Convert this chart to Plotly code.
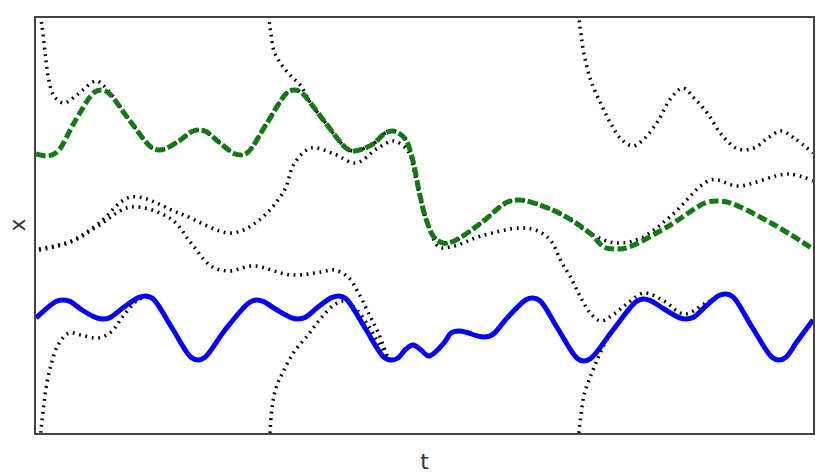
import plotly.graph_objects as go

# solid blue trajectory (incl. shoulders of each extremum)
blue_t = [0.00, 0.20, 0.27, 0.34, 0.46, 0.60, 0.67, 0.74, 0.88, 1.03, 1.10, 1.17, 1.36,
          1.55, 1.62, 1.69, 1.89, 2.13, 2.20, 2.27, 2.41, 2.55, 2.62, 2.69, 2.82, 2.96,
          3.03, 3.10, 3.29, 3.48, 3.55, 3.62, 3.70, 3.77, 3.85, 3.93, 4.08, 4.15, 4.23,
          4.31, 4.40, 4.48, 4.56, 4.72, 4.90, 4.97, 5.04, 5.22, 5.41, 5.48, 5.55, 5.77,
          6.00, 6.07, 6.14, 6.28, 6.43, 6.50, 6.57, 6.70, 6.83, 6.90, 6.97, 7.16, 7.36,
          7.43, 7.50, 7.60, 7.77]
blue_x = [-0.925, -0.759, -0.745, -0.759, -0.845, -0.921, -0.935, -0.921, -0.815, -0.719,
          -0.705, -0.733, -1.025, -1.317, -1.345, -1.317, -1.045, -0.773, -0.745, -0.759,
          -0.845, -0.921, -0.935, -0.921, -0.815, -0.719, -0.705, -0.733, -1.025, -1.317,
          -1.345, -1.325, -1.235, -1.195, -1.245, -1.305, -1.175, -1.075, -1.055, -1.070,
          -1.100, -1.115, -1.095, -0.915, -0.742, -0.725, -0.753, -1.035, -1.327, -1.355,
          -1.327, -1.045, -0.763, -0.735, -0.749, -0.835, -0.921, -0.935, -0.921, -0.805,
          -0.699, -0.685, -0.713, -1.015, -1.317, -1.345, -1.317, -1.175, -0.945]

# dashed green trajectory
green_t = [0.00, 0.12, 0.22, 0.38, 0.58, 0.65, 0.72, 0.94, 1.16, 1.23, 1.30, 1.43, 1.56,
           1.63, 1.70, 1.84, 1.98, 2.05, 2.12, 2.31, 2.51, 2.58, 2.65, 2.88, 3.11, 3.18,
           3.25, 3.37, 3.50, 3.57, 3.64, 3.70, 3.77, 3.83, 3.90, 3.98, 4.07, 4.17, 4.45,
           4.70, 4.82, 4.94, 5.25, 5.55, 5.68, 5.80, 5.92, 6.31, 6.70, 6.82, 6.94, 7.35,
           7.77]
green_x = [0.715, 0.695, 0.745, 1.025, 1.330, 1.355, 1.330, 1.045, 0.776, 0.755, 0.770,
           0.845, 0.940, 0.955, 0.940, 0.825, 0.720, 0.705, 0.734, 1.025, 1.326, 1.355,
           1.333, 1.045, 0.767, 0.745, 0.760, 0.815, 0.930, 0.945, 0.915, 0.855, 0.645,
           0.345, 0.065, -0.115, -0.175, -0.160, 0.025, 0.227, 0.255, 0.237, 0.115,
           -0.085, -0.217, -0.235, -0.219, -0.015, 0.229, 0.245, 0.227, 0.025, -0.235]

# dotted trajectories (own segments; they join blue/green afterwards)
d1_head_t = [0.02, 0.05, 0.07, 0.10, 0.13, 0.18, 0.28, 0.42, 0.60, 0.68, 0.77]
d1_head_x = [2.295, 2.065, 1.915, 1.645, 1.445, 1.295, 1.225, 1.315, 1.445, 1.395, 1.29]
d1_tail_t = [5.80, 6.05, 6.35, 6.75, 7.02, 7.52, 7.77]
d1_tail_x = [-0.175, -0.125, 0.095, 0.455, 0.395, 0.515, 0.445]

d2_t = [2.32, 2.33, 2.35, 2.38, 2.45, 2.55, 2.65, 2.73]
d2_x = [2.295, 2.065, 1.915, 1.745, 1.615, 1.495, 1.395, 1.25]

d3_t = [0.03, 0.35, 0.62, 0.95, 1.45, 1.95, 2.22, 2.48, 2.58, 2.75, 2.98, 3.20, 3.42, 3.58,
        3.72, 3.78, 3.85, 3.93, 4.03, 4.18, 4.45, 4.85, 5.02, 5.15, 5.25, 5.35, 5.45, 5.55,
        5.65, 5.78, 5.92, 6.08, 6.28, 6.48, 6.70]
d3_x = [-0.235, -0.155, 0.015, 0.285, 0.115, -0.075, 0.045, 0.345, 0.615, 0.775, 0.715,
        0.625, 0.775, 0.845, 0.745, 0.545, 0.245, -0.015, -0.215, -0.205, -0.105, -0.025,
        -0.055, -0.155, -0.355, -0.525, -0.725, -0.885, -0.955, -0.885, -0.775, -0.675,
        -0.755, -0.885, -0.775]

d4_t = [5.42, 5.43, 5.45, 5.48, 5.55, 5.62, 5.68]
d4_x = [-2.205, -2.065, -1.895, -1.695, -1.495, -1.325, -1.195]

d5_t = [5.42, 5.43, 5.45, 5.48, 5.55, 5.65, 5.75, 5.85, 5.97, 6.08, 6.22, 6.35, 6.47, 6.58,
        6.72, 6.85, 7.02, 7.18, 7.32, 7.45, 7.58, 7.77]
d5_x = [2.245, 2.065, 1.915, 1.715, 1.445, 1.215, 1.015, 0.865, 0.795, 0.865, 1.045, 1.275,
        1.375, 1.275, 1.115, 0.915, 0.765, 0.775, 0.875, 0.945, 0.875, 0.725]

d7_t = [0.04, 0.05, 0.07, 0.10, 0.15, 0.22, 0.33, 0.45, 0.62, 0.75, 0.88, 1.02, 1.12]
d7_x = [-2.205, -2.045, -1.865, -1.625, -1.395, -1.195, -1.075, -1.095, -1.125, -1.065,
        -0.895, -0.745, -0.715]

d8_t = [2.33, 2.34, 2.36, 2.40, 2.47, 2.58, 2.72, 2.85, 2.98, 3.08, 3.18, 3.32, 3.42]
d8_x = [-2.205, -2.065, -1.825, -1.625, -1.465, -1.265, -1.095, -0.925, -0.795, -0.755,
        -0.815, -0.995, -1.165]

d9_t = [0.03, 0.35, 0.62, 0.95, 1.35, 1.55, 1.75, 1.92, 2.18, 2.55, 2.85, 2.98, 3.12, 3.22,
        3.32, 3.42]
d9_x = [-0.245, -0.165, -0.005, 0.185, 0.065, -0.175, -0.405, -0.455, -0.405, -0.495,
        -0.465, -0.445, -0.515, -0.665, -0.865, -1.065]

dotted = [
  (d1_head_t + green_t[7:44] + d1_tail_t, d1_head_x + green_x[7:44] + d1_tail_x),
  (d2_t + green_t[23:30], d2_x + green_x[23:30]),
  (d3_t + blue_t[61:], d3_x + blue_x[61:]),
  (d4_t + blue_t[51:], d4_x + blue_x[51:]),
  (d5_t, d5_x),
  (d7_t + blue_t[11:], d7_x + blue_x[11:]),
  (d8_t + blue_t[30:], d8_x + blue_x[30:]),
  (d9_t + blue_t[30:], d9_x + blue_x[30:]),
]

fig = go.Figure()
for tt, xx in dotted:
  fig.add_trace(go.Scatter(x=tt, y=xx, mode='lines',
                           line=dict(color='black', width=3.5, dash='1.8px,4.7px',
                                     shape='spline', smoothing=1)))
fig.add_trace(go.Scatter(x=green_t, y=green_x, mode='lines',
                         line=dict(color='#137a13', width=5, dash='9.5px,3.5px',
                                   shape='spline', smoothing=1)))
fig.add_trace(go.Scatter(x=blue_t, y=blue_x, mode='lines',
                         line=dict(color='#0000ff', width=5, shape='spline', smoothing=1)))

label_font = dict(size=22, color='#333', family='DejaVu Sans')
# the page body adds ~8px offset, so margins are shifted to compensate
axis_style = dict(showticklabels=False, ticks='', showgrid=False, zeroline=False,
                  showline=True, mirror=True, linecolor='#444', linewidth=1.5,
                  automargin=False)
fig.update_xaxes(range=[0, 7.77], title=dict(text='t', standoff=20, font=label_font),
                 **axis_style)
fig.update_yaxes(range=[-2.075, 2.075], **axis_style)
# y label placed as annotation so it can sit closer to the page edge
fig.add_annotation(text='x', xref='paper', yref='paper', x=0, y=0.5, xanchor='center',
                   yanchor='middle', xshift=-19, textangle=-90, showarrow=False,
                   font=label_font)
fig.update_layout(width=831, height=474, showlegend=False,
                  margin=dict(l=28, r=26, t=10, b=49),
                  plot_bgcolor='white', paper_bgcolor='white')

fig.write_html("out.html")
